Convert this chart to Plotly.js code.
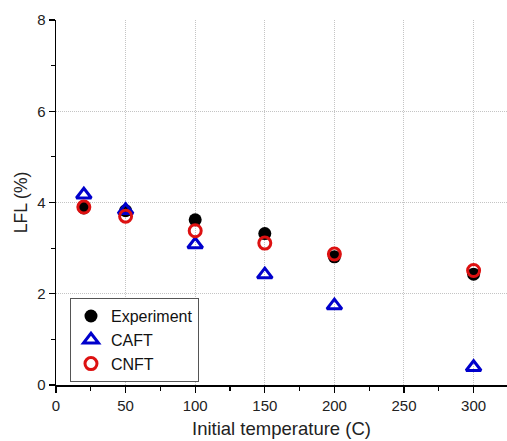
<!DOCTYPE html>
<html>
<head>
<meta charset="utf-8">
<script src="https://cdn.plot.ly/plotly-3.0.1.min.js"></script>
<style>html,body{margin:0;padding:0;background:#fff;}#chart{width:507px;height:441px;}</style>
</head>
<body>
<div id="chart"></div>
<script>
const temperatures = [20, 50, 100, 150, 200, 300];
const experimentLFL = [3.88, 3.82, 3.62, 3.32, 2.81, 2.43];
const caftLFL = [4.17, 3.83, 3.08, 2.42, 1.74, 0.39];
const cnftLFL = [3.90, 3.70, 3.38, 3.11, 2.87, 2.51];
const seriesNames = ["Experiment", "CAFT", "CNFT"];
const xTicks = [0, 50, 100, 150, 200, 250, 300];
const yTicks = [0, 2, 4, 6, 8];
const yGridVals = [2, 4, 6];

const traces = [
  {x: temperatures, y: experimentLFL, name: seriesNames[0], type: "scatter", mode: "markers",
   marker: {symbol: "circle", size: 13, color: "#000000", line: {width: 0}}},
  {x: temperatures, y: caftLFL, name: seriesNames[1], type: "scatter", mode: "markers",
   marker: {symbol: "triangle-up-open", size: 13, color: "#0000cc", line: {width: 3, color: "#0000cc"}}},
  {x: temperatures, y: cnftLFL, name: seriesNames[2], type: "scatter", mode: "markers",
   marker: {symbol: "circle-open", size: 12, color: "#dd1111", line: {width: 3, color: "#dd1111"}}}
];

const fam = "Liberation Sans, Arial, sans-serif";
const axisFont = {family: fam, size: 15, color: "#222"};
const layout = {
  width: 507, height: 441,
  margin: {l: 56, r: 0, t: 20, b: 56, pad: 0},
  paper_bgcolor: "#ffffff", plot_bgcolor: "#ffffff",
  showlegend: true,
  legend: {x: 0.031, y: 0.008, xanchor: "left", yanchor: "bottom",
    bgcolor: "#ffffff", bordercolor: "#555", borderwidth: 1,
    font: {family: fam, size: 16, color: "#111"},
    itemwidth: 30, tracegroupgap: 0},
  xaxis: {
    range: [0, 324], tickvals: xTicks, ticktext: xTicks.map(String),
    showline: true, linecolor: "#000", linewidth: 1.5, mirror: false,
    ticks: "outside", ticklen: 6, tickwidth: 1.2, tickcolor: "#000",
    minor: {tickvals: [25, 75, 125, 175, 225, 275, 325], ticks: "outside", ticklen: 4, tickcolor: "#000", showgrid: false},
    showgrid: true, gridcolor: "#c4c4c4", griddash: "1px,1px", gridwidth: 1,
    zeroline: false, tickfont: axisFont,
    title: {text: "Initial temperature (C)", font: {family: fam, size: 18.5, color: "#222"}, standoff: 9}
  },
  yaxis: {
    range: [0, 8], tickvals: yTicks, ticktext: yTicks.map(String),
    showline: true, linecolor: "#000", linewidth: 1.5, mirror: false,
    ticks: "outside", ticklen: 6, tickwidth: 1.2, tickcolor: "#000",
    minor: {tickvals: [1, 3, 5, 7], ticks: "outside", ticklen: 4, tickcolor: "#000", showgrid: false},
    showgrid: false,
    zeroline: false, tickfont: axisFont,
    title: {text: "LFL (%)", font: {family: fam, size: 17.5, color: "#222"}, standoff: 5}
  },
  yaxis2: {
    overlaying: "y", range: [0, 8], tickvals: yGridVals, showticklabels: false, ticks: "",
    showline: false, zeroline: false,
    showgrid: true, gridcolor: "#c4c4c4", griddash: "1px,1px", gridwidth: 1
  }
};
traces.push({x: [], y: [], yaxis: "y2", showlegend: false, type: "scatter", mode: "markers", hoverinfo: "skip"});
Plotly.newPlot("chart", traces, layout, {displayModeBar: false, staticPlot: true});
</script>
</body>
</html>
